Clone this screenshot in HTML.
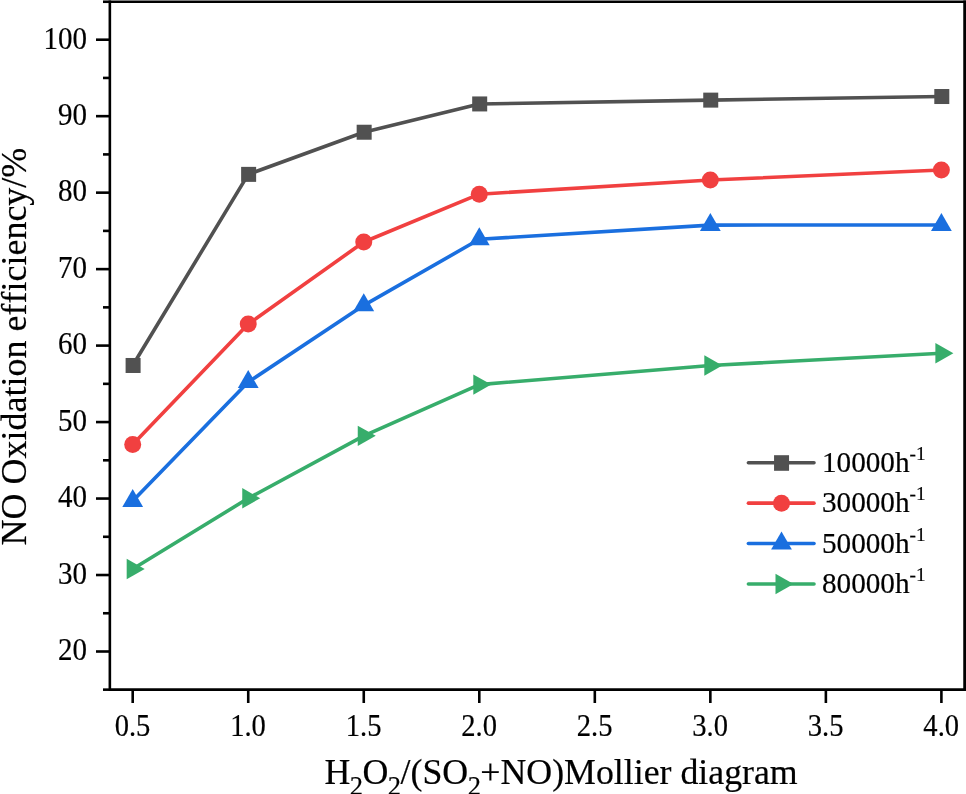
<!DOCTYPE html>
<html lang="en">
<head>
<meta charset="utf-8">
<title>NO oxidation efficiency vs H2O2/(SO2+NO) molar ratio</title>
<style>
html,body{margin:0;padding:0;background:#fff;}
body{width:966px;height:794px;overflow:hidden;position:relative;}
svg{display:block;position:absolute;left:0;top:0;will-change:transform;}
svg text{font-family:'Liberation Serif', serif;font-variant-ligatures:none;font-kerning:none;stroke:#000;stroke-width:0.2px;}
</style>
</head>
<body>
<svg width="966" height="794" viewBox="0 0 966 794">
<g class="series">
<polyline points="132.70,365.48 248.23,174.37 363.76,132.23 479.29,103.94 710.34,100.12 941.40,96.52" fill="none" stroke="#515151" stroke-width="3.6" stroke-linejoin="round"/>
<rect x="125.60" y="357.98" width="15.0" height="15.0" fill="#515151"/>
<rect x="241.13" y="166.87" width="15.0" height="15.0" fill="#515151"/>
<rect x="356.66" y="124.73" width="15.0" height="15.0" fill="#515151"/>
<rect x="472.19" y="96.44" width="15.0" height="15.0" fill="#515151"/>
<rect x="703.24" y="92.62" width="15.0" height="15.0" fill="#515151"/>
<rect x="934.30" y="89.02" width="15.0" height="15.0" fill="#515151"/>
</g>
<g class="series">
<polyline points="132.70,444.41 248.23,324.11 363.76,241.98 479.29,194.18 710.34,180.03 941.40,169.94" fill="none" stroke="#F14040" stroke-width="3.6" stroke-linejoin="round"/>
<circle cx="132.70" cy="444.41" r="8.5" fill="#F14040"/>
<circle cx="248.23" cy="324.11" r="8.5" fill="#F14040"/>
<circle cx="363.76" cy="241.98" r="8.5" fill="#F14040"/>
<circle cx="479.29" cy="194.18" r="8.5" fill="#F14040"/>
<circle cx="710.34" cy="180.03" r="8.5" fill="#F14040"/>
<circle cx="941.40" cy="169.94" r="8.5" fill="#F14040"/>
</g>
<g class="series">
<polyline points="132.70,501.00 248.23,382.08 363.76,305.37 479.29,239.30 710.34,225.08 941.40,225.00" fill="none" stroke="#1A6FDF" stroke-width="3.6" stroke-linejoin="round"/>
<polygon points="132.70,489.00 143.10,507.00 122.30,507.00" fill="#1A6FDF"/>
<polygon points="248.23,370.08 258.63,388.08 237.83,388.08" fill="#1A6FDF"/>
<polygon points="363.76,293.37 374.16,311.37 353.36,311.37" fill="#1A6FDF"/>
<polygon points="479.29,227.30 489.69,245.30 468.89,245.30" fill="#1A6FDF"/>
<polygon points="710.34,213.08 720.74,231.08 699.94,231.08" fill="#1A6FDF"/>
<polygon points="941.40,213.00 951.80,231.00 931.00,231.00" fill="#1A6FDF"/>
</g>
<g class="series">
<polyline points="132.70,568.98 248.23,498.32 363.76,435.84 479.29,384.60 710.34,365.48 941.40,353.25" fill="none" stroke="#37AD6B" stroke-width="3.6" stroke-linejoin="round"/>
<polygon points="144.70,568.98 126.70,558.78 126.70,579.18" fill="#37AD6B"/>
<polygon points="260.23,498.32 242.23,488.12 242.23,508.52" fill="#37AD6B"/>
<polygon points="375.76,435.84 357.76,425.64 357.76,446.04" fill="#37AD6B"/>
<polygon points="491.29,384.60 473.29,374.40 473.29,394.80" fill="#37AD6B"/>
<polygon points="722.34,365.48 704.34,355.28 704.34,375.68" fill="#37AD6B"/>
<polygon points="953.40,353.25 935.40,343.05 935.40,363.45" fill="#37AD6B"/>
</g>
<g class="axes" stroke="#000" stroke-width="2.6" fill="none">
<line x1="109.85" y1="0.45" x2="109.85" y2="690.95"/>
<rect x="963.25" y="0.45" width="3" height="690.50" fill="#000" stroke="none"/>
<line x1="109.85" y1="1.75" x2="966" y2="1.75"/>
<line x1="109.85" y1="689.65" x2="966" y2="689.65"/>
<line x1="96" y1="651.50" x2="109.85" y2="651.50"/>
<line x1="96" y1="575.02" x2="109.85" y2="575.02"/>
<line x1="96" y1="498.55" x2="109.85" y2="498.55"/>
<line x1="96" y1="422.07" x2="109.85" y2="422.07"/>
<line x1="96" y1="345.60" x2="109.85" y2="345.60"/>
<line x1="96" y1="269.13" x2="109.85" y2="269.13"/>
<line x1="96" y1="192.65" x2="109.85" y2="192.65"/>
<line x1="96" y1="116.17" x2="109.85" y2="116.17"/>
<line x1="96" y1="39.70" x2="109.85" y2="39.70"/>
<line x1="103" y1="689.65" x2="109.85" y2="689.65"/>
<line x1="103" y1="613.26" x2="109.85" y2="613.26"/>
<line x1="103" y1="536.79" x2="109.85" y2="536.79"/>
<line x1="103" y1="460.31" x2="109.85" y2="460.31"/>
<line x1="103" y1="383.84" x2="109.85" y2="383.84"/>
<line x1="103" y1="307.36" x2="109.85" y2="307.36"/>
<line x1="103" y1="230.89" x2="109.85" y2="230.89"/>
<line x1="103" y1="154.41" x2="109.85" y2="154.41"/>
<line x1="103" y1="77.94" x2="109.85" y2="77.94"/>
<line x1="103" y1="1.75" x2="109.85" y2="1.75"/>
<line x1="132.70" y1="689.65" x2="132.70" y2="703"/>
<line x1="248.23" y1="689.65" x2="248.23" y2="703"/>
<line x1="363.76" y1="689.65" x2="363.76" y2="703"/>
<line x1="479.29" y1="689.65" x2="479.29" y2="703"/>
<line x1="594.81" y1="689.65" x2="594.81" y2="703"/>
<line x1="710.34" y1="689.65" x2="710.34" y2="703"/>
<line x1="825.87" y1="689.65" x2="825.87" y2="703"/>
<line x1="941.40" y1="689.65" x2="941.40" y2="703"/>
</g>
<g class="ticklabels" fill="#000">
<text transform="translate(87.00,660.30) scale(1.0,1.07)" font-size="29.0" text-anchor="end">20</text>
<text transform="translate(87.00,583.82) scale(1.0,1.07)" font-size="29.0" text-anchor="end">30</text>
<text transform="translate(87.00,507.35) scale(1.0,1.07)" font-size="29.0" text-anchor="end">40</text>
<text transform="translate(87.00,430.88) scale(1.0,1.07)" font-size="29.0" text-anchor="end">50</text>
<text transform="translate(87.00,354.40) scale(1.0,1.07)" font-size="29.0" text-anchor="end">60</text>
<text transform="translate(87.00,277.93) scale(1.0,1.07)" font-size="29.0" text-anchor="end">70</text>
<text transform="translate(87.00,201.45) scale(1.0,1.07)" font-size="29.0" text-anchor="end">80</text>
<text transform="translate(87.00,124.97) scale(1.0,1.07)" font-size="29.0" text-anchor="end">90</text>
<text transform="translate(87.00,48.50) scale(1.0,1.07)" font-size="29.0" text-anchor="end">100</text>
<text transform="translate(132.50,735.50) scale(0.985,1.07)" font-size="29.0" text-anchor="middle">0.5</text>
<text transform="translate(248.03,735.50) scale(0.985,1.07)" font-size="29.0" text-anchor="middle">1.0</text>
<text transform="translate(363.56,735.50) scale(0.985,1.07)" font-size="29.0" text-anchor="middle">1.5</text>
<text transform="translate(479.09,735.50) scale(0.985,1.07)" font-size="29.0" text-anchor="middle">2.0</text>
<text transform="translate(594.61,735.50) scale(0.985,1.07)" font-size="29.0" text-anchor="middle">2.5</text>
<text transform="translate(710.14,735.50) scale(0.985,1.07)" font-size="29.0" text-anchor="middle">3.0</text>
<text transform="translate(825.67,735.50) scale(0.985,1.07)" font-size="29.0" text-anchor="middle">3.5</text>
<text transform="translate(941.20,735.50) scale(0.985,1.07)" font-size="29.0" text-anchor="middle">4.0</text>
</g>
<g class="titles" fill="#000">
<text transform="translate(324.50,783.80)" font-size="35.8" text-anchor="start">H<tspan font-size="26.5" dx="-0.5" dy="10.8">2</tspan><tspan dx="-0.6" dy="-10.8">O</tspan><tspan font-size="26.5" dx="-0.5" dy="10.8">2</tspan><tspan dx="-0.6" dy="-10.8">/(SO</tspan><tspan font-size="26.5" dx="-0.5" dy="10.8">2</tspan><tspan dx="-0.6" dy="-10.8">+NO)Mollier diagram</tspan></text>
<text transform="translate(26.10,545.50) rotate(-90)" font-size="36.0" text-anchor="start">NO Oxidation efficiency/%</text>
</g>
<g class="legend" fill="#000">
<line x1="748.4" y1="462.75" x2="814" y2="462.75" stroke="#515151" stroke-width="3.6" stroke-linecap="round"/>
<rect x="774.05" y="455.20" width="15" height="15.6" fill="#515151"/>
<text transform="translate(821.90,472.00) scale(1.0086,1.0)" font-size="29.0" text-anchor="start">10000h<tspan font-size="19.2" dy="-12.1">-1</tspan></text>
<line x1="748.4" y1="503.15" x2="814" y2="503.15" stroke="#F14040" stroke-width="3.6" stroke-linecap="round"/>
<circle cx="781.50" cy="503.15" r="8.5" fill="#F14040"/>
<text transform="translate(821.90,512.40) scale(1.0086,1.0)" font-size="29.0" text-anchor="start">30000h<tspan font-size="19.2" dy="-12.1">-1</tspan></text>
<line x1="748.4" y1="543.55" x2="814" y2="543.55" stroke="#1A6FDF" stroke-width="3.6" stroke-linecap="round"/>
<polygon points="781.50,531.55 791.90,549.55 771.10,549.55" fill="#1A6FDF"/>
<text transform="translate(821.90,552.80) scale(1.0086,1.0)" font-size="29.0" text-anchor="start">50000h<tspan font-size="19.2" dy="-12.1">-1</tspan></text>
<line x1="748.4" y1="583.95" x2="814" y2="583.95" stroke="#37AD6B" stroke-width="3.6" stroke-linecap="round"/>
<polygon points="793.50,583.95 775.50,573.75 775.50,594.15" fill="#37AD6B"/>
<text transform="translate(821.90,593.20) scale(1.0086,1.0)" font-size="29.0" text-anchor="start">80000h<tspan font-size="19.2" dy="-12.1">-1</tspan></text>
</g>
</svg>
</body>
</html>
